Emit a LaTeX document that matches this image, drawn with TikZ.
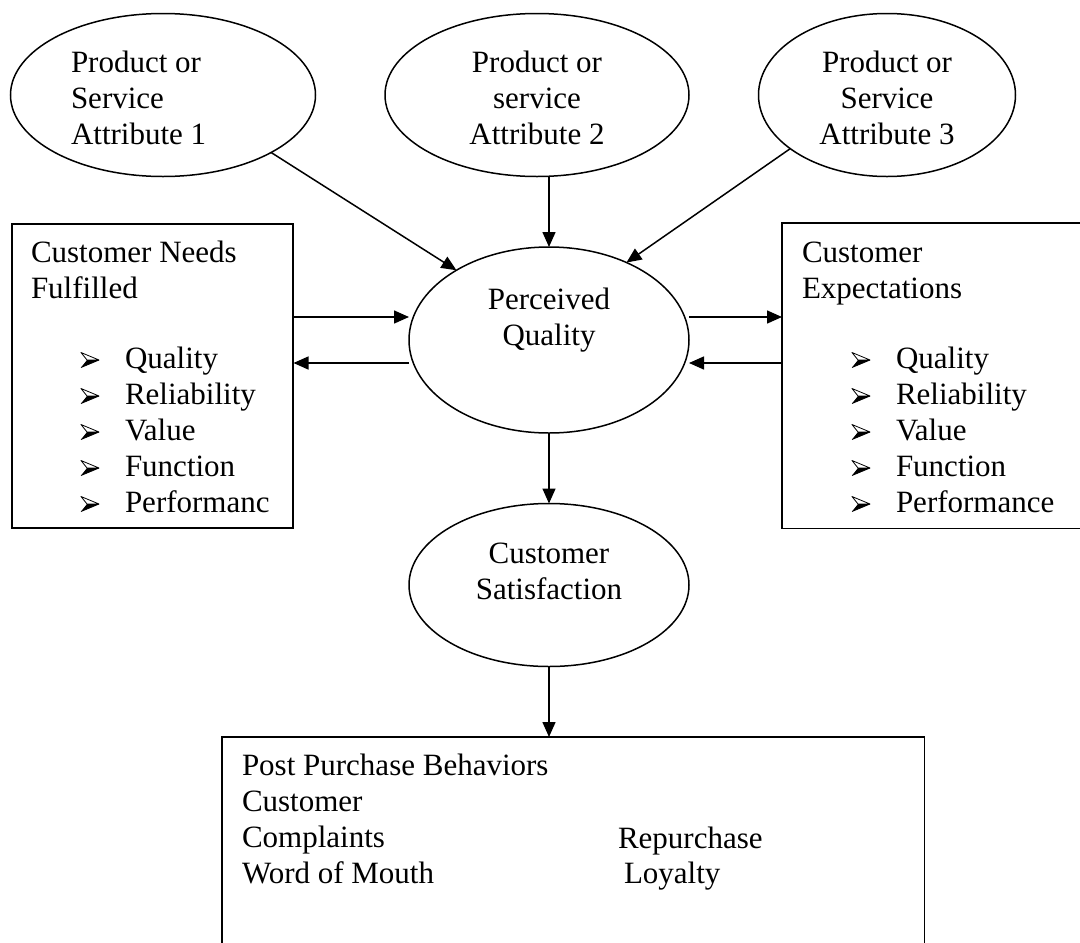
\documentclass[tikz,border=0pt]{standalone}
\usepackage{fontspec}
\setmainfont{Liberation Serif}
\usetikzlibrary{arrows.meta,shapes.geometric,calc}
\begin{document}
\begin{tikzpicture}[x=1pt,y=-1pt,line width=1.5pt,
  oval/.style={draw,ellipse,inner sep=0pt,outer sep=0pt},
  txt/.style={font=\fontsize{31}{36}\selectfont,inner sep=0pt,outer sep=0pt},
  arr/.style={-{Triangle[length=15pt,width=13pt]}},
  bullet/.pic={
    \draw[line width=0.8pt,line join=round,fill=white] (0,-7.5) -- (18,0) -- (6,0) -- cycle;
    \fill[line join=round] (0,7.5) -- (18,0) -- (6,0) -- cycle;
    \draw[line width=0.8pt,line join=round] (0,7.5) -- (18,0);
  }]
\useasboundingbox (0,0) rectangle (1080,943);
% ellipses
\node[oval,minimum width=305pt,minimum height=163pt] (a1) at (163,95) {};
\node[oval,minimum width=304pt,minimum height=163pt] (a2) at (537,95) {};
\node[oval,minimum width=257pt,minimum height=163pt] (a3) at (887,95) {};
\node[oval,minimum width=280pt,minimum height=186pt] (pq) at (549,340) {};
\node[oval,minimum width=280pt,minimum height=163pt] (cs) at (549,585) {};
% boxes
\node[draw,rectangle,inner sep=0pt,minimum width=281pt,minimum height=304pt,anchor=north west] (lbox) at (11,223) {};
\node[draw=none,rectangle,inner sep=0pt,minimum width=300pt,minimum height=304pt,anchor=north west] (rbox) at (782,223) {};
\draw (rbox.north east) -- (rbox.north west) -- (rbox.south west) -- (rbox.south east);
\node[draw=none,rectangle,inner sep=0pt,minimum width=701pt,minimum height=207pt,anchor=north west] (bbox) at (222,737) {};
\draw (bbox.south west) -- (bbox.north west) -- (bbox.north east) -- (bbox.south east);
% texts (base anchor = baseline of last line)
\node[txt,align=left,anchor=base west] (t1) at (71,144) {Product or\\Service\\Attribute 1};
\node[txt,align=center,anchor=base] (t2) at (537,144) {Product or\\service\\Attribute 2};
\node[txt,align=center,anchor=base] (t3) at (887,144) {Product or\\Service\\Attribute 3};
\node[txt,align=center,anchor=base] (tpq) at (549,345) {Perceived\\Quality};
\node[txt,align=center,anchor=base] (tcs) at (549,599) {Customer\\Satisfaction};
\node[txt,align=left,anchor=base west] (tl) at (31,298) {Customer Needs\\Fulfilled};
\node[txt,align=left,anchor=base west] (tlb) at (125,512) {Quality\\Reliability\\Value\\Function\\Performanc};
\node[txt,align=left,anchor=base west] (tr) at (802,298) {Customer\\Expectations};
\node[txt,align=left,anchor=base west] (trb) at (896,512) {Quality\\Reliability\\Value\\Function\\Performance};
\node[txt,align=left,anchor=base west] (tb) at (242,883) {Post Purchase Behaviors\\Customer\\Complaints\\Word of Mouth};
\node[txt,anchor=base west] (trep) at (618,848) {Repurchase};
\node[txt,anchor=base west] (tloy) at (624,883) {Loyalty};
% bullets
\foreach \yy in {360,396,432,468,504} {
  \pic at (81,\yy) {bullet};
  \pic at (852,\yy) {bullet};
}
% connectors
\draw[arr] (a1.-28.5) -- (pq.143);
\draw[arr] (pq.north |- a2.south) -- (pq.north);
\draw[arr] (a3.209) -- (pq.45);
\draw[arr] (lbox.east |- 0,317) -- (pq.west |- 0,317);
\draw[arr] (pq.west |- 0,363) -- (lbox.east |- 0,363);
\draw[arr] (pq.east |- 0,317) -- (rbox.west |- 0,317);
\draw[arr] (rbox.west |- 0,363) -- (pq.east |- 0,363);
\draw[arr] (pq.south) -- (cs.north);
\draw[arr] (cs.south) -- (cs.south |- bbox.north);
\end{tikzpicture}
\end{document}
